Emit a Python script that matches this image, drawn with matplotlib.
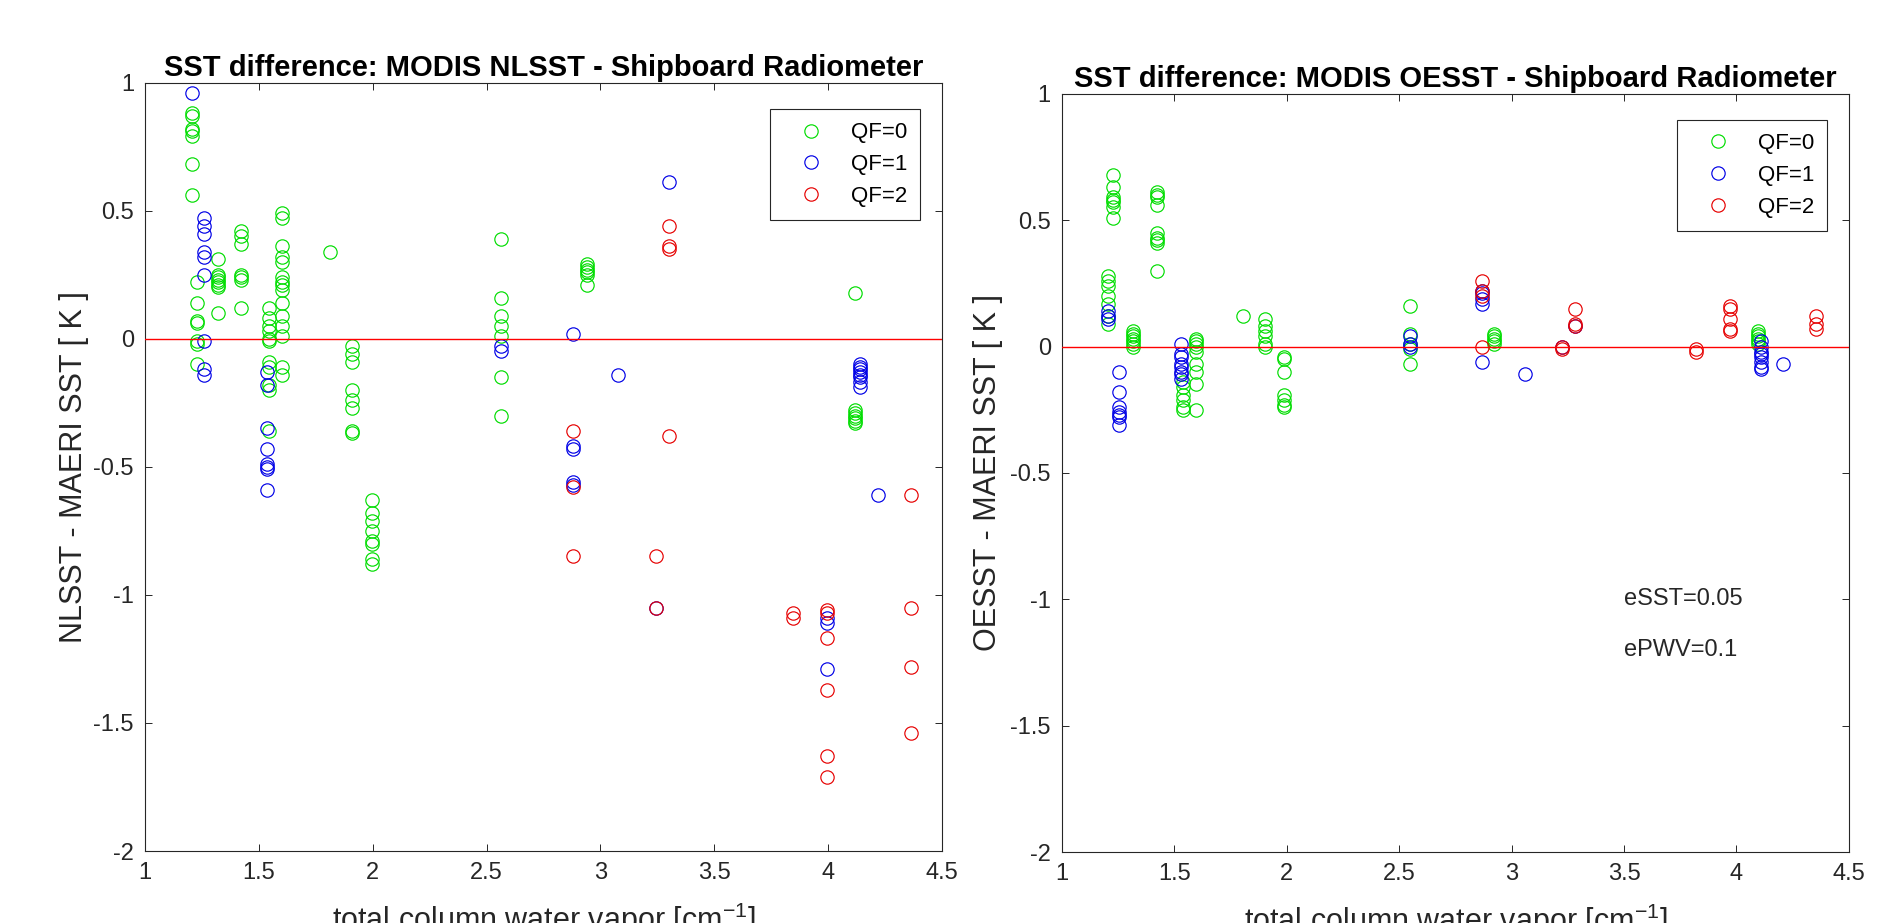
import numpy as np
import matplotlib
matplotlib.use('Agg')
import matplotlib.pyplot as plt
from matplotlib.ticker import FormatStrFormatter

plt.rcParams['font.family'] = ['Liberation Sans', 'DejaVu Sans']
plt.rcParams['mathtext.default'] = 'regular'

# =============================================================================
# ================================== DATA =====================================
# =============================================================================
# total column water vapor of each match-up, split by quality flag
# left panel: NLSST - MAERI SST
nl_qf0_x = ([1.207] * 7 + [1.228] * 7 + [1.320] * 8 + [1.423] * 7 + [1.546] * 11
            + [1.600] * 15 + [1.811] + [1.910] * 8 + [1.996] * 8 + [2.563] * 7
            + [2.940] * 6 + [4.119] * 7)
nl_qf0_y = [0.88, 0.87, 0.82, 0.81, 0.79, 0.68, 0.56,
            0.22, 0.14, 0.07, 0.06, -0.01, -0.02, -0.10,
            0.31, 0.25, 0.24, 0.23, 0.22, 0.21, 0.20, 0.10,
            0.42, 0.40, 0.37, 0.25, 0.24, 0.23, 0.12,
            0.12, 0.08, 0.05, 0.03, 0.00, -0.01, -0.09, -0.11, -0.18, -0.20, -0.36,
            0.49, 0.47, 0.36, 0.32, 0.30, 0.24, 0.22, 0.21, 0.19, 0.14, 0.09, 0.05, 0.01, -0.11, -0.14,
            0.34,
            -0.03, -0.06, -0.09, -0.20, -0.24, -0.27, -0.36, -0.37,
            -0.63, -0.68, -0.71, -0.75, -0.79, -0.80, -0.86, -0.88,
            0.39, 0.16, 0.09, 0.05, 0.01, -0.15, -0.30,
            0.29, 0.28, 0.27, 0.26, 0.25, 0.21,
            0.18, -0.28, -0.29, -0.30, -0.31, -0.32, -0.33]

nl_qf1_x = ([1.207] + [1.258] * 9 + [1.534] * 8 + [2.563] * 2 + [2.881] * 5
            + [3.077] + [3.245] + [3.301] + [3.996] * 3 + [4.138] * 8 + [4.217])
nl_qf1_y = [0.96,
            0.47, 0.44, 0.41, 0.34, 0.32, 0.25, -0.01, -0.12, -0.14,
            -0.13, -0.18, -0.35, -0.43, -0.49, -0.50, -0.51, -0.59,
            -0.03, -0.05,
            0.02, -0.42, -0.43, -0.56, -0.57,
            -0.14,
            -1.05,
            0.61,
            -1.09, -1.11, -1.29,
            -0.10, -0.11, -0.12, -0.13, -0.14, -0.15, -0.17, -0.19,
            -0.61]

nl_qf2_x = ([2.881] * 3 + [3.245] * 2 + [3.301] * 4 + [3.848] * 2 + [3.996] * 6
            + [4.364] * 4)
nl_qf2_y = [-0.36, -0.58, -0.85,
            -0.85, -1.05,
            0.44, 0.36, 0.35, -0.38,
            -1.07, -1.09,
            -1.06, -1.07, -1.17, -1.37, -1.63, -1.71,
            -0.61, -1.05, -1.28, -1.54]

# right panel: OESST - MAERI SST
oe_qf0_x = ([1.228] * 7 + [1.206] * 7 + [1.317] * 7 + [1.421] * 9 + [1.539] * 6
            + [1.594] * 9 + [1.803] + [1.903] * 6 + [1.987] * 7 + [2.548] * 5
            + [2.922] * 5 + [4.096] * 6)
oe_qf0_y = [0.68, 0.63, 0.59, 0.58, 0.57, 0.55, 0.51,
            0.28, 0.26, 0.24, 0.20, 0.17, 0.12, 0.09,
            0.06, 0.05, 0.04, 0.03, 0.02, 0.01, 0.00,
            0.61, 0.60, 0.59, 0.56, 0.45, 0.43, 0.42, 0.41, 0.30,
            -0.14, -0.16, -0.19, -0.21, -0.24, -0.25,
            0.03, 0.02, 0.01, 0.00, -0.02, -0.07, -0.10, -0.15, -0.25,
            0.12,
            0.11, 0.08, 0.06, 0.04, 0.01, 0.00,
            -0.04, -0.05, -0.10, -0.19, -0.21, -0.23, -0.24,
            0.16, 0.05, 0.01, -0.01, -0.07,
            0.05, 0.04, 0.03, 0.02, 0.01,
            0.06, 0.05, 0.04, 0.03, 0.02, 0.01]

oe_qf1_x = ([1.206] * 3 + [1.253] * 7 + [1.529] * 8 + [2.548] * 3 + [2.866] * 5
            + [3.060] + [3.226] + [3.282] + [4.110] * 8 + [4.207])
oe_qf1_y = [0.14, 0.12, 0.11,
            -0.10, -0.18, -0.24, -0.26, -0.27, -0.28, -0.31,
            0.01, -0.03, -0.04, -0.07, -0.08, -0.10, -0.11, -0.13,
            0.04, 0.01, 0.00,
            0.22, 0.21, 0.19, 0.17, -0.06,
            -0.11,
            0.00,
            0.08,
            0.02, 0.00, -0.02, -0.03, -0.04, -0.06, -0.08, -0.09,
            -0.07]

oe_qf2_x = ([2.866] * 4 + [3.226] * 2 + [3.282] * 3 + [3.822] * 2 + [3.970] * 5
            + [4.353] * 3)
oe_qf2_y = [0.26, 0.22, 0.20, 0.00,
            0.00, -0.01,
            0.15, 0.09, 0.08,
            -0.01, -0.02,
            0.16, 0.15, 0.11, 0.07, 0.06,
            0.12, 0.09, 0.07]

qf_labels = ['QF=0', 'QF=1', 'QF=2']
qf_colors = ['#00dd00', '#0000e6', '#e60000']
x_ticks = [1, 1.5, 2, 2.5, 3, 3.5, 4, 4.5]
y_ticks = [-2, -1.5, -1, -0.5, 0, 0.5, 1]
# -----------------------------------------------------------------------------


def draw_panel(ax, series, title, ylabel, ylabelpad):
    for (xs, ys), lab, col in zip(series, qf_labels, qf_colors):
        ax.plot(xs, ys, 'o', mfc='none', mec=col, ms=9.6, mew=0.85, label=lab)
    ax.axhline(0, color='#ff0000', lw=1.0, zorder=3)

    ax.set_xlim(1, 4.5)
    ax.set_ylim(-2, 1)
    ax.set_xticks(x_ticks)
    ax.set_yticks(y_ticks)
    ax.xaxis.set_major_formatter(FormatStrFormatter('%g'))
    ax.yaxis.set_major_formatter(FormatStrFormatter('%g'))
    ax.tick_params(direction='in', top=True, right=True, length=5, width=0.7,
                   color='#262626', labelcolor='#262626', labelsize=17, pad=8)
    for sp in ax.spines.values():
        sp.set_color('#262626')
        sp.set_linewidth(0.8)

    ax.set_title(title, fontsize=21, fontweight='bold', pad=5)
    ax.set_ylabel(ylabel, fontsize=22, color='#262626', labelpad=ylabelpad)
    ax.set_xlabel('total column water vapor [cm$^{-1}$]', fontsize=22,
                  color='#262626', labelpad=12)

    leg = ax.legend(loc='upper right', bbox_to_anchor=(0.9728, 0.9655),
                    borderaxespad=0, fontsize=16, numpoints=1, fancybox=False,
                    framealpha=1, edgecolor='#262626', borderpad=0.6,
                    handlelength=2.46, handletextpad=0.57, labelspacing=0.49)
    leg.get_frame().set_linewidth(0.8)


# =============================================================================
# ================================ FIGURE =====================================
# =============================================================================
fig = plt.figure(figsize=(18.93, 9.23), dpi=100)
ax1 = fig.add_axes([0.0766, 0.0780, 0.4210, 0.8326])
ax2 = fig.add_axes([0.5610, 0.0766, 0.4157, 0.8219])

draw_panel(ax1, [(nl_qf0_x, nl_qf0_y), (nl_qf1_x, nl_qf1_y), (nl_qf2_x, nl_qf2_y)],
           'SST difference: MODIS NLSST - Shipboard Radiometer',
           'NLSST - MAERI SST [ K ]', 3)
draw_panel(ax2, [(oe_qf0_x, oe_qf0_y), (oe_qf1_x, oe_qf1_y), (oe_qf2_x, oe_qf2_y)],
           'SST difference: MODIS OESST - Shipboard Radiometer',
           'OESST - MAERI SST [ K ]', 5)

ax2.text(3.5, -1.0, 'eSST=0.05', fontsize=17, color='#262626', va='center')
ax2.text(3.5, -1.2, 'ePWV=0.1', fontsize=17, color='#262626', va='center')

fig.savefig('out.png', dpi=100)
